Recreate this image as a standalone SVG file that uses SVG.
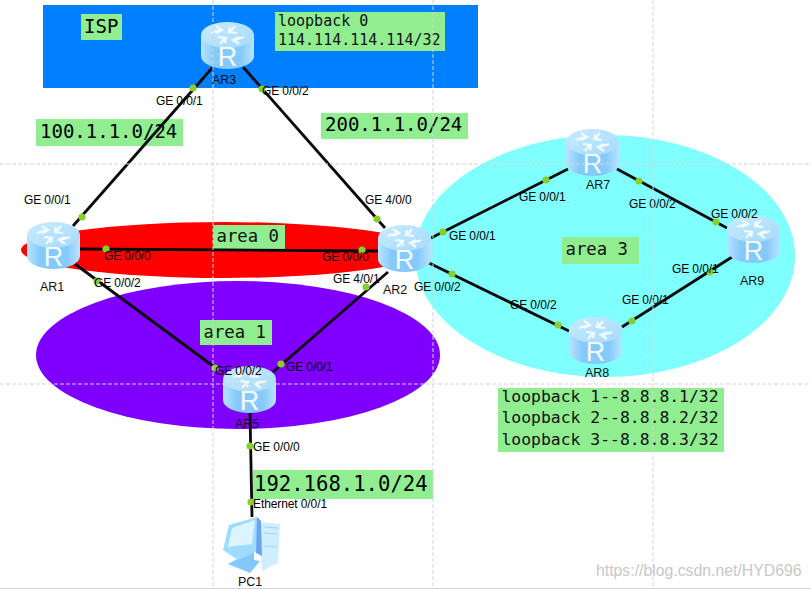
<svg xmlns="http://www.w3.org/2000/svg" xmlns:xlink="http://www.w3.org/1999/xlink" width="811" height="589" viewBox="0 0 811 589">
<style>
.lnk{stroke:#0a0a0a;stroke-width:2.8;fill:none}
.dot{fill:#86cf2e}
.lb{font:12px "Liberation Sans",Arial,sans-serif;fill:#000;letter-spacing:-.1px}
.nm{font:12.5px "Liberation Sans",Arial,sans-serif;fill:#111}
.box{fill:#90ee90}
.m15{font:15px "DejaVu Sans Mono",monospace;fill:#111}
.m16{font:16.4px "DejaVu Sans Mono",monospace;fill:#111}
.m17{font:17.3px "DejaVu Sans Mono",monospace;fill:#111}
.m19{font:19px "DejaVu Sans Mono",monospace;fill:#000}
.m20{font:20.6px "DejaVu Sans Mono",monospace;fill:#000}
.grid{stroke:#d4d4d4;stroke-width:1;stroke-dasharray:4 2;fill:none}
</style>
<defs>
<linearGradient id="body" x1="0" x2="1" y1="0" y2="0">
<stop offset="0" stop-color="#b8e4ff"/><stop offset=".25" stop-color="#86c9fb"/><stop offset=".75" stop-color="#86c9fb"/><stop offset="1" stop-color="#b8e4ff"/>
</linearGradient>
<linearGradient id="top" x1="0" x2="1" y1="0" y2="1">
<stop offset="0" stop-color="#c8ebff"/><stop offset="1" stop-color="#a6dafb"/>
</linearGradient>
<g id="router">
<path d="M0 13V34A26.500 13 0 0 0 53 34V13Z" fill="url(#body)"/>
<ellipse cx="26.500" cy="13" rx="26.500" ry="13" fill="url(#top)"/>
<g fill="none" stroke="#f2fbff" stroke-width="2.200">
<path d="M10 11 19 8M15 4 21 8 15 11"/>
<path d="M43 15 34 18M38 22 32 18 38 15"/>
<path d="M34 4 29 10M36 11 28 10 29 5"/>
<path d="M19 22 24 16M17 15 25 16 24 21"/>
</g>
<text x="26.500" y="44" text-anchor="middle" font-family="Liberation Sans, Arial, sans-serif" font-size="27" fill="#f4fbff">R</text>
</g>
</defs>

<rect width="811" height="589" fill="#fff"/>
<g id="regions">
<rect x="43" y="5" width="435" height="83" fill="#007fff"/>
<ellipse cx="605" cy="256" rx="190" ry="121" fill="#80ffff"/>
<ellipse cx="238" cy="355" rx="202" ry="74" fill="#7f00ff"/>
<ellipse cx="223" cy="250" rx="202" ry="28" fill="#ff0000"/>
</g>

<g id="annotations">
<rect class="box" x="81" y="14" width="41" height="26"/><text class="m19" x="84" y="33">ISP</text>
<rect class="box" x="275" y="12" width="170" height="39"/>
<text class="m15" x="278" y="26">loopback 0</text><text class="m15" x="278" y="45">114.114.114.114/32</text>
<rect class="box" x="36" y="119" width="147" height="27"/><text class="m19" x="40" y="138">100.1.1.0/24</text>
<rect class="box" x="321" y="113" width="147" height="26"/><text class="m19" x="325" y="131">200.1.1.0/24</text>
<rect class="box" x="213" y="225" width="72" height="24"/><text class="m17" x="216.500" y="242">area 0</text>
<rect class="box" x="200" y="320" width="72" height="25"/><text class="m17" x="203.500" y="338">area 1</text>
<rect class="box" x="562" y="237" width="77" height="27"/><text class="m17" x="565.500" y="255">area 3</text>
<rect class="box" x="498" y="388" width="226" height="64"/>
<text class="m16" x="501.500" y="402">loopback 1--8.8.8.1/32</text>
<text class="m16" x="501.500" y="423">loopback 2--8.8.8.2/32</text>
<text class="m16" x="501.500" y="445">loopback 3--8.8.8.3/32</text>
<rect class="box" x="253" y="470" width="180" height="29"/><text class="m20" x="254" y="491">192.168.1.0/24</text>
</g>

<g id="connectors">
<path class="lnk" d="M213 67 73 226"/>
<path class="lnk" d="M243 67 385 228"/>
<path class="lnk" d="M80 249 378 251"/>
<path class="lnk" d="M75 264 217 369"/>
<path class="lnk" d="M388 272 273 372"/>
<path class="lnk" d="M250 413 252 517"/>
<path class="lnk" d="M431 238 568 169"/>
<path class="lnk" d="M617 169 727 228"/>
<path class="lnk" d="M429 263 569 331"/>
<path class="lnk" d="M622 327 732 257"/>
<g>
<circle class="dot" cx="193" cy="88" r="3.600"/><circle class="dot" cx="262" cy="89" r="3.600"/>
<circle class="dot" cx="82" cy="217" r="3.600"/><circle class="dot" cx="377" cy="219" r="3.600"/>
<circle class="dot" cx="106" cy="249" r="3.600"/><circle class="dot" cx="362" cy="250" r="3.600"/>
<circle class="dot" cx="97" cy="281" r="3.600"/><circle class="dot" cx="366" cy="287" r="3.600"/>
<circle class="dot" cx="215" cy="368" r="3.600"/><circle class="dot" cx="281" cy="364" r="3.600"/>
<circle class="dot" cx="250" cy="446" r="3.600"/><circle class="dot" cx="251" cy="502" r="3.600"/>
<circle class="dot" cx="443" cy="232" r="3.600"/><circle class="dot" cx="546" cy="180" r="3.600"/>
<circle class="dot" cx="639" cy="181" r="3.600"/><circle class="dot" cx="716" cy="222" r="3.600"/>
<circle class="dot" cx="452" cy="274" r="3.600"/><circle class="dot" cx="558" cy="325" r="3.600"/>
<circle class="dot" cx="632" cy="321" r="3.600"/><circle class="dot" cx="710" cy="272" r="3.600"/>
</g>
</g>

<g id="AR3"><use xlink:href="#router" href="#router" x="201" y="22"/><text class="nm" x="212" y="84">AR3</text></g>
<g id="AR1"><use xlink:href="#router" href="#router" x="27" y="222"/><text class="nm" x="40" y="291">AR1</text></g>
<g id="AR2"><use xlink:href="#router" href="#router" x="378" y="225"/><text class="nm" x="383" y="294">AR2</text></g>
<g id="AR5"><use xlink:href="#router" href="#router" x="223" y="366"/><text class="nm" x="235" y="428">AR5</text></g>
<g id="AR7"><use xlink:href="#router" href="#router" x="566" y="129"/><text class="nm" x="586" y="189">AR7</text></g>
<g id="AR8"><use xlink:href="#router" href="#router" x="569" y="317"/><text class="nm" x="585" y="377">AR8</text></g>
<g id="AR9"><use xlink:href="#router" href="#router" x="727" y="216"/><text class="nm" x="740" y="285">AR9</text></g>
<g id="PC1">
<path d="M258 522 280 524 278 563 262 571Z" fill="#cfeeff"/>
<path d="M264 527 278 528M264 533 278 534M264 546 277 547" stroke="#9bd6fb" stroke-width="1.200" fill="none"/>
<path d="M228 564 239 558 239 552 254 552 254 560 260 561 250 573Z" fill="#82c8fb"/>
<path d="M229 525 257 517 261 521 256 552 238 560 223 550Z" fill="#9edcff"/>
<path d="M232 528 255 520 252 544 228 547Z" fill="#dcf4ff"/>
<path d="M257 517 261 521 262 556 256 553Z" fill="#6aa5ee"/>
<text class="nm" x="238" y="586">PC1</text>
</g>

<g id="interface-labels">
<text class="lb" x="156" y="105">GE 0/0/1</text>
<text class="lb" x="262" y="95">GE 0/0/2</text>
<text class="lb" x="24" y="204">GE 0/0/1</text>
<text class="lb" x="365" y="204">GE 4/0/0</text>
<text class="lb" x="104" y="260">GE 0/0/0</text>
<text class="lb" x="322" y="261">GE 0/0/0</text>
<text class="lb" x="94" y="287">GE 0/0/2</text>
<text class="lb" x="333" y="283">GE 4/0/1</text>
<text class="lb" x="449" y="240">GE 0/0/1</text>
<text class="lb" x="414" y="291">GE 0/0/2</text>
<text class="lb" x="519" y="201">GE 0/0/1</text>
<text class="lb" x="629" y="208">GE 0/0/2</text>
<text class="lb" x="711" y="218">GE 0/0/2</text>
<text class="lb" x="672" y="273">GE 0/0/1</text>
<text class="lb" x="622" y="304">GE 0/0/1</text>
<text class="lb" x="510" y="309">GE 0/0/2</text>
<text class="lb" x="215" y="375">GE 0/0/2</text>
<text class="lb" x="286" y="371">GE 0/0/1</text>
<text class="lb" x="253" y="451">GE 0/0/0</text>
<text class="lb" x="253" y="508">Ethernet 0/0/1</text>
</g>

<g id="guides">
<path class="grid" d="M213 0V589M433 0V589M653 0V589M0 164H811M0 384H811"/>
<path d="M0 588.500H811" stroke="#d4d4d4" fill="none"/>
</g>
<text x="596" y="576" font-family="Liberation Sans, Arial, sans-serif" font-size="15.800" fill="#c8c8c8">https://blog.csdn.net/HYD696</text>
</svg>
